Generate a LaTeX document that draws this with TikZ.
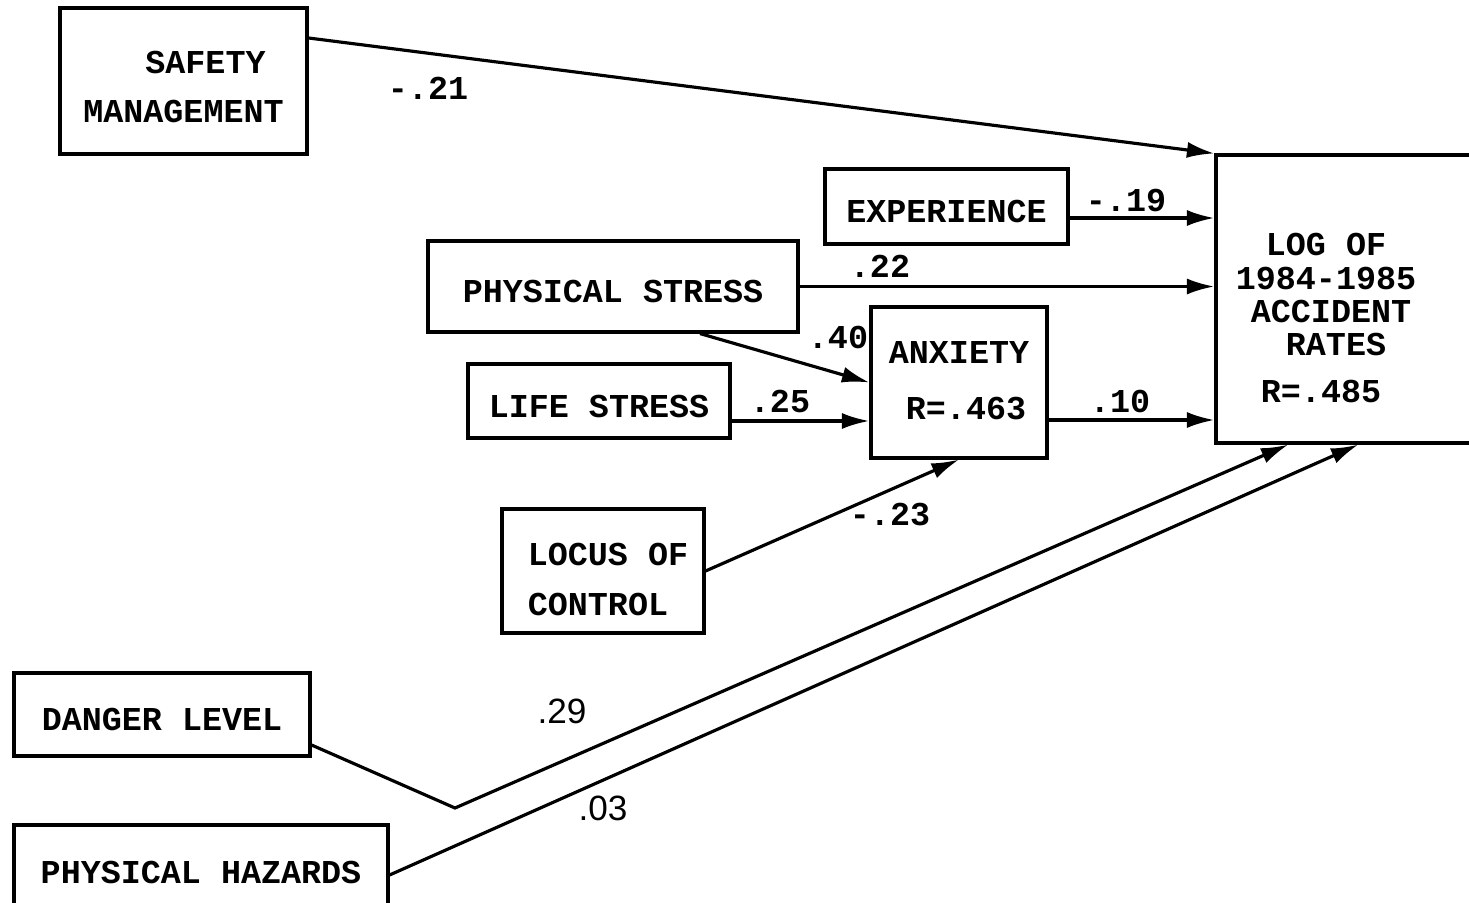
\documentclass[tikz,border=0pt]{standalone}
\usepackage{fontspec}
\setmonofont{Liberation Mono}
\newfontfamily\coefsans{Liberation Sans}
\usetikzlibrary{arrows.meta,positioning,calc}
\newcommand\boxdrop{\rule{0pt}{\dimexpr\fontcharht\font`E+0.22cm\relax}}

\begin{document}
\begin{tikzpicture}[
    x=0.02cm, y=-0.02cm,
    box/.style={rectangle, draw, line width=1.8pt, inner sep=0pt, align=center,
                execute at begin node=\boxdrop,
                font=\ttfamily\bfseries\fontsize{19}{28}\selectfont},
    boxtext/.style={inner sep=0pt, align=center, font=\ttfamily\bfseries\fontsize{19}{28}\selectfont},
    arrow/.style={-{Latex[length=0.55cm,width=0.32cm]}, line width=1.8pt},
    coef/.style={font=\ttfamily\bfseries\fontsize{19}{23}\selectfont},
    coefs/.style={font=\coefsans\fontsize{20}{23}\selectfont},
]
    \useasboundingbox (0,0) rectangle (1469,902);

    % boxes
    \node[box, minimum width=4.94cm, minimum height=2.92cm] (safety) at (183.5,81) {};
    \node[boxtext] (safetytext) at (183.5,87) {\hspace*{0.88cm}SAFETY\\MANAGEMENT};
    \node[box, minimum width=4.86cm, minimum height=1.5cm] (exp) at (946.5,206.5) {EXPERIENCE};
    \node[box, minimum width=7.4cm, minimum height=1.82cm] (phys) at (613,286.5) {PHYSICAL STRESS};
    \node[box, minimum width=3.52cm, minimum height=3.02cm] (anx) at (959,382.5) {};
    \node[boxtext] (anxtext) at (959,381) {ANXIETY\\[4pt]\hspace*{0.28cm}R=.463};
    \node[box, minimum width=5.24cm, minimum height=1.48cm] (life) at (599,401) {LIFE STRESS};
    \node[box, minimum width=4.04cm, minimum height=2.48cm] (locus) at (603,571) {};
    \node[boxtext, align=left] (locustext) at (608,579.5) {LOCUS OF\\CONTROL};
    \node[box, minimum width=5.28cm, minimum height=5.76cm] (log) at (1348,299) {};
    \node[boxtext, font=\ttfamily\bfseries\fontsize{19}{19}\selectfont] (logtext) at (1326,318)
        {LOG OF\\1984-1985\\\hspace*{0.2cm}ACCIDENT\\\hspace*{0.4cm}RATES\\[7.5pt]R=.485\hspace*{0.2cm}};
    \node[box, minimum width=5.92cm, minimum height=1.66cm] (danger) at (162,714.5) {DANGER LEVEL};
    \node[box, minimum width=7.48cm, minimum height=1.7cm] (hazards) at (201,867.5) {PHYSICAL HAZARDS};
    \coordinate (bend) at (455,808);

    % paths
    \draw[arrow] ($(safety.east)+(0,-43)$) -- (log.north west);
    \draw[arrow] ($(exp.east)+(0,11.5)$) -- ($(exp.east -| log.west)+(0,11.5)$);
    \draw[arrow] (phys.east) -- (phys.east -| log.west);
    \draw[arrow] ($(phys.south)+(87,0)$) -- (anx.west);
    \draw[arrow] ($(life.east)+(0,20)$) -- ($(life.east -| anx.west)+(0,20)$);
    \draw[arrow] (locus.east) -- (anx.south);
    \draw[arrow] ($(anx.east)+(0,37.5)$) -- ($(anx.east -| log.west)+(0,37.5)$);
    \draw[arrow] ($(danger.east)+(0,30.5)$) -- (bend) -- ($(log.south west)+(74,0)$);
    \draw[arrow] ($(hazards.east)+(0,7.5)$) -- ($(log.south west)+(144,0)$);

    % coefficients
    \node[coef] (csafety) at (428,88) {-.21};
    \node[coef] (cexp) at (1126,200) {-.19};
    \node[coef] (cphys) at (880,266) {.22};
    \node[coef] (cphysanx) at (838,337) {.40};
    \node[coef] (clife) at (780,401) {.25};
    \node[coef] (clocus) at (890,515) {-.23};
    \node[coef] (canx) at (1120,401) {.10};
    \node[coefs] (cdanger) at (562,711) {.29};
    \node[coefs] (chazards) at (603,808) {.03};
\end{tikzpicture}
\end{document}
